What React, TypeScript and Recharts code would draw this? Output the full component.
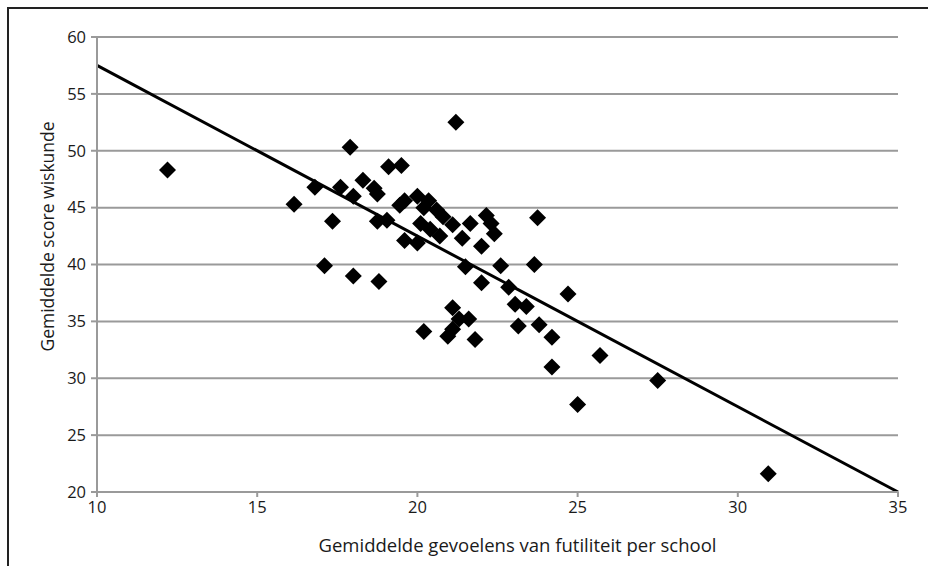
import React from 'react';
import { ScatterChart, Scatter, XAxis, YAxis, CartesianGrid, ReferenceLine, Label } from 'recharts';

// gemiddelde gevoelens van futiliteit per school
const futility = [
  12.2, 16.15, 16.8, 17.6, 17.35, 17.1, 17.9, 18.0, 18.0, 18.3,
  18.65, 18.75, 18.75, 18.8, 19.1, 19.5, 19.05, 19.45, 19.6, 19.6,
  20.0, 20.0, 20.35, 20.6, 20.8, 21.1, 20.1, 20.4, 20.7, 21.2,
  21.4, 21.65, 22.15, 22.3, 22.4, 22.0, 23.75, 21.5, 22.6, 23.65,
  22.0, 22.85, 24.7, 21.1, 23.05, 23.4, 21.3, 21.6, 21.1, 20.2,
  20.95, 21.8, 23.15, 23.8, 24.2, 25.7, 24.2, 25.0, 27.5, 30.95,
  20.2,
];

// gemiddelde score wiskunde
const mathScore = [
  48.3, 45.3, 46.8, 46.8, 43.8, 39.9, 50.3, 39.0, 46.0, 47.4,
  46.7, 46.2, 43.8, 38.5, 48.6, 48.7, 43.9, 45.2, 45.6, 42.1,
  46.0, 41.9, 45.6, 44.8, 44.2, 43.5, 43.6, 43.1, 42.5, 52.5,
  42.3, 43.6, 44.3, 43.6, 42.7, 41.6, 44.1, 39.8, 39.9, 40.0,
  38.4, 38.0, 37.4, 36.2, 36.5, 36.3, 35.2, 35.2, 34.3, 34.1,
  33.7, 33.4, 34.6, 34.7, 33.6, 32.0, 31.0, 27.7, 29.8, 21.6,
  45.0,
];

// trendlijn
const trendX = [10, 35];
const trendY = [57.5, 20];

const xTicks = [10, 15, 20, 25, 30, 35];
const yTicks = [20, 25, 30, 35, 40, 45, 50, 55, 60];

const points = futility.map((x, i) => ({ x, y: mathScore[i] }));

const FONT = '"Open Sans", "Liberation Sans", sans-serif';

const Diamond = (props: any) => {
  const { cx, cy } = props;
  const r = 8.5;
  return (
    <polygon
      points={`${cx},${cy - r} ${cx + r},${cy} ${cx},${cy + r} ${cx - r},${cy}`}
      fill="#000"
    />
  );
};

const XTitle = ({ viewBox }: any) => (
  <text
    x={viewBox.x + viewBox.width / 2 + 20}
    y={viewBox.y + 52}
    textAnchor="middle"
    dominantBaseline="central"
    fill="#1a1a1a"
    fontSize={18.5}
    fontFamily={FONT}
  >
    Gemiddelde gevoelens van futiliteit per school
  </text>
);

const YTitle = ({ viewBox }: any) => {
  const x = viewBox.x + 47;
  const y = viewBox.y + viewBox.height / 2 - 28;
  return (
    <text
      x={x}
      y={y}
      transform={`rotate(-90 ${x} ${y})`}
      textAnchor="middle"
      dominantBaseline="central"
      fill="#1a1a1a"
      fontSize={17.5}
      fontFamily={FONT}
    >
      Gemiddelde score wiskunde
    </text>
  );
};

export default function App() {
  return (
    <div style={{ position: 'absolute', left: 0, top: 0, width: 928, height: 566, background: '#fff' }}>
      <div
        style={{
          position: 'absolute',
          left: 7,
          top: 7,
          width: 921,
          height: 559,
          borderTop: '2px solid #222',
          borderLeft: '2px solid #222',
          boxSizing: 'border-box',
        }}
      />
      <div style={{ position: 'absolute', left: 0, top: 0 }}>
        <ScatterChart
          width={928}
          height={566}
          margin={{ top: 37, right: 30, left: 0, bottom: 44 }}
          style={{ fontFamily: FONT }}
        >
          <CartesianGrid vertical={false} stroke="#9a9a9a" strokeWidth={2} />
          <XAxis
            type="number"
            dataKey="x"
            domain={[10, 35]}
            ticks={xTicks}
            allowDataOverflow
            height={30}
            stroke="#9a9a9a"
            strokeWidth={2}
            tickSize={5}
            tickMargin={4}
            tick={{ fill: '#1a1a1a', fontSize: 16.5, fontFamily: FONT }}
          >
            <Label content={<XTitle />} />
          </XAxis>
          <YAxis
            type="number"
            dataKey="y"
            domain={[20, 60]}
            ticks={yTicks}
            allowDataOverflow
            width={97}
            stroke="#9a9a9a"
            strokeWidth={2}
            tickSize={6}
            tickMargin={5}
            tick={{ fill: '#1a1a1a', fontSize: 16.5, fontFamily: FONT }}
          >
            <Label content={<YTitle />} />
          </YAxis>
          <Scatter data={points} shape={<Diamond />} isAnimationActive={false} />
          <ReferenceLine
            segment={[
              { x: trendX[0], y: trendY[0] },
              { x: trendX[1], y: trendY[1] },
            ]}
            stroke="#000"
            strokeWidth={3}
            ifOverflow="visible"
          />
        </ScatterChart>
      </div>
    </div>
  );
}
